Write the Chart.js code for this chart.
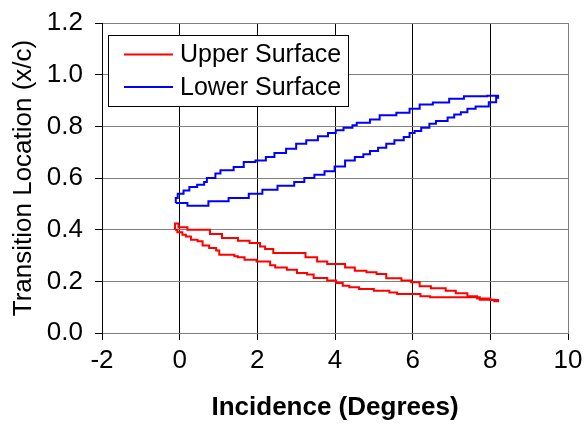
<!DOCTYPE html>
<html>
<head>
<meta charset="utf-8">
<script src="https://cdn.jsdelivr.net/npm/chart.js@4.4.0/dist/chart.umd.min.js"></script>
<style>
    html, body { margin: 0; padding: 0; background: #fff; }
</style>
</head>
<body>
<canvas id="chart" width="584" height="424"></canvas>
<script>
/* ─────────────────────────────────────────
   DATA — transition loops (incidence up, then back down)
───────────────────────────────────────── */
const upperOutX = [-0.12, -0.03, 0.20, 0.78, 1.09, 1.50, 1.80, 2.07, 2.20, 2.41, 3.24, 3.54, 3.80, 4.26, 4.51, 4.81, 5.07, 5.32, 5.71, 5.96, 6.18, 6.47, 6.85, 7.11, 7.41, 7.66, 8.00, 8.20];
const upperOutY = [0.400, 0.424, 0.409, 0.400, 0.383, 0.368, 0.357, 0.348, 0.335, 0.325, 0.310, 0.293, 0.277, 0.267, 0.254, 0.241, 0.235, 0.228, 0.212, 0.203, 0.196, 0.181, 0.173, 0.164, 0.154, 0.142, 0.134, 0.128];
const upperBackX = [8.10, 7.73, 6.45, 6.20, 5.60, 5.40, 5.00, 4.62, 4.37, 4.20, 4.03, 3.80, 3.45, 3.28, 3.02, 2.76, 2.46, 2.33, 1.98, 1.67, 1.50, 1.41, 1.02, 0.94, 0.76, 0.59, 0.46, 0.29, 0.16, 0.07, -0.06, -0.12];
const upperBackY = [0.123, 0.129, 0.138, 0.142, 0.151, 0.157, 0.164, 0.170, 0.177, 0.183, 0.194, 0.203, 0.213, 0.226, 0.232, 0.245, 0.254, 0.262, 0.277, 0.284, 0.293, 0.297, 0.303, 0.319, 0.329, 0.339, 0.355, 0.361, 0.374, 0.380, 0.390, 0.400];

const lowerOutX = [-0.10, -0.05, 0.10, 0.25, 0.45, 0.63, 0.70, 0.92, 1.05, 1.39, 1.65, 1.95, 2.22, 2.44, 2.74, 3.00, 3.26, 3.56, 3.82, 4.02, 4.22, 4.45, 4.56, 4.90, 5.15, 5.58, 5.92, 6.18, 6.52, 6.94, 7.32, 7.92, 8.20];
const lowerOutY = [0.503, 0.523, 0.539, 0.552, 0.565, 0.574, 0.585, 0.600, 0.617, 0.630, 0.643, 0.662, 0.668, 0.681, 0.697, 0.713, 0.733, 0.746, 0.762, 0.774, 0.785, 0.795, 0.804, 0.814, 0.826, 0.843, 0.853, 0.868, 0.885, 0.892, 0.907, 0.916, 0.918];
const lowerBackX = [8.15, 7.96, 7.62, 7.41, 7.24, 7.07, 6.90, 6.60, 6.43, 6.22, 6.05, 5.92, 5.77, 5.53, 5.32, 5.11, 4.90, 4.73, 4.51, 4.26, 3.99, 3.73, 3.47, 3.21, 2.95, 2.52, 2.13, 1.78, 1.26, 0.74, 0.20, -0.10];
const lowerBackY = [0.911, 0.893, 0.877, 0.868, 0.855, 0.846, 0.834, 0.821, 0.810, 0.795, 0.782, 0.774, 0.759, 0.746, 0.733, 0.717, 0.705, 0.692, 0.681, 0.668, 0.645, 0.626, 0.613, 0.600, 0.585, 0.570, 0.555, 0.539, 0.523, 0.510, 0.493, 0.503];

const xTicks = [-2, 0, 2, 4, 6, 8, 10];
const yTicks = [0, 0.2, 0.4, 0.6, 0.8, 1.0, 1.2];

/* ─────────────────────────────────────────
   HELPERS
───────────────────────────────────────── */
function toPoints(xs, ys) {
    return xs.map((x, i) => ({x: x, y: ys[i]}));
}

const FONT = "'Liberation Sans', Arial, sans-serif";

// legend drawn as a boxed panel inside the plot, like the original
const boxLegend = {
    id: 'boxLegend',
    afterDraw(chart) {
        const a = chart.chartArea;
        const c = chart.ctx;
        const bx = a.left + 6, by = a.top + 12, bw = 240, bh = 71;
        c.save();
        c.fillStyle = '#fff';
        c.fillRect(bx, by, bw, bh);
        c.strokeStyle = '#000';
        c.lineWidth = 1;
        c.strokeRect(bx + 0.5, by + 0.5, bw, bh);
        c.font = '25px ' + FONT;
        c.textBaseline = 'middle';
        c.fillStyle = '#000';
        chart.data.datasets.forEach((ds, i) => {
            const yy = by + 19.5 + i * 32.5;
            c.strokeStyle = ds.borderColor;
            c.lineWidth = 2;
            c.beginPath();
            c.moveTo(bx + 16, yy);
            c.lineTo(bx + 65, yy);
            c.stroke();
            c.fillText(ds.label, bx + 72, yy + 1);
        });
        c.restore();
    }
};

/* ─────────────────────────────────────────
   CHART
───────────────────────────────────────── */
new Chart(document.getElementById('chart'), {
    type: 'line',
    data: {
        datasets: [
            {
                label: 'Upper Surface',
                data: toPoints(upperOutX.concat(upperBackX), upperOutY.concat(upperBackY)),
                borderColor: '#ff0000',
                borderWidth: 2,
                stepped: 'after',
                pointRadius: 0,
                fill: false,
            },
            {
                label: 'Lower Surface',
                data: toPoints(lowerOutX.concat(lowerBackX), lowerOutY.concat(lowerBackY)),
                borderColor: '#0000ff',
                borderWidth: 2,
                stepped: 'after',
                pointRadius: 0,
                fill: false,
            }
        ]
    },
    options: {
        responsive: false,
        animation: false,
        devicePixelRatio: 1,
        layout: {padding: {top: 23, right: 16, left: 0, bottom: 0}},
        plugins: {legend: {display: false}, tooltip: {enabled: false}},
        scales: {
            x: {
                type: 'linear',
                min: -2,
                max: 10,
                afterBuildTicks: s => { s.ticks = xTicks.map(v => ({value: v})); },
                afterFit: s => { s.height = 91; s.paddingLeft = 0; s.paddingRight = 0; },
                ticks: {
                    color: '#000',
                    font: {family: FONT, size: 26},
                    padding: 5,
                    maxRotation: 0,
                    callback: v => String(v),
                },
                grid: {
                    color: c => (c.tick && c.tick.value === 10 ? '#808080' : '#000'),
                    tickColor: '#000',
                    tickLength: 7,
                    lineWidth: 1,
                },
                border: {color: '#808080', width: 1},
                title: {
                    display: true,
                    text: 'Incidence (Degrees)',
                    color: '#000',
                    font: {family: FONT, size: 26, weight: 'bold'},
                    padding: {top: 0, bottom: 1},
                }
            },
            y: {
                type: 'linear',
                min: 0,
                max: 1.2,
                afterBuildTicks: s => { s.ticks = yTicks.map(v => ({value: v})); },
                afterFit: s => { s.width = 102; s.paddingTop = 0; s.paddingBottom = 0; },
                ticks: {
                    color: '#000',
                    font: {family: FONT, size: 26},
                    padding: 12,
                    callback: v => v.toFixed(1),
                },
                grid: {
                    color: '#808080',
                    tickColor: '#000',
                    tickLength: 7,
                    lineWidth: 1,
                },
                border: {color: '#000', width: 1},
                title: {
                    display: true,
                    text: 'Transition Location (x/c)',
                    color: '#000',
                    font: {family: FONT, size: 26},
                    padding: {top: 8, bottom: 0},
                }
            }
        }
    },
    plugins: [boxLegend]
});
</script>
</body>
</html>
